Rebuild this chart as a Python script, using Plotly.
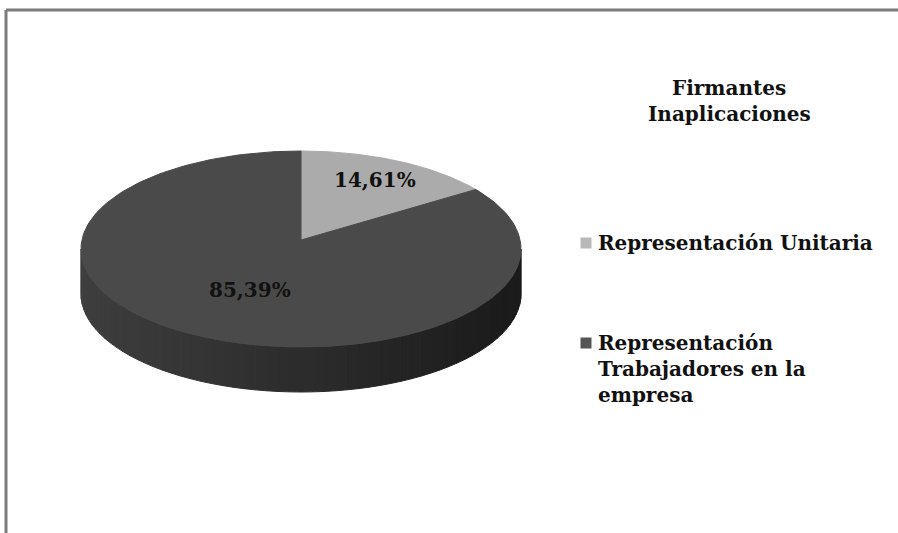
import textwrap
import numpy as np
import plotly.graph_objects as go

# ---- data -------------------------------------------------------------
categories = ["Representación Unitaria",
              "Representación Trabajadores en la empresa"]
shares = [14.61, 85.39]
legend_title = "Firmantes Inaplicaciones"

# ---- styling ----------------------------------------------------------
W, H = 898, 533
FONT = "DejaVu Serif"
FONT_SIZE = 20
TEXT_COLOR = "#111111"
top_colors = ["#ababab", "#4a4a4a"]
swatch_colors = ["#b8b8b8", "#555555"]
side_shade = [(0x3e, 0x3e, 0x3e), (0x1a, 0x1a, 0x1a)]   # left -> right
label_radius = [0.76, 0.52]

# 3-D pie geometry (pixel space)
CX, CY = 301, 249          # centre of the top ellipse
RX, RY = 220, 98
APEX = (301, 240)          # where the slices meet
DEPTH = 45


def rim(theta):
    """Point on the top rim; theta in degrees, clockwise from 12 o'clock."""
    t = np.radians(theta)
    return CX + RX * np.sin(t), CY - RY * np.cos(t)


def text_font():
    return dict(family=FONT, size=FONT_SIZE, color=TEXT_COLOR, weight="bold")


fig = go.Figure()

# cumulative angles of each slice
total = sum(shares)
bounds = np.concatenate([[0.0], np.cumsum(shares) / total * 360.0])

# side walls (only the front half, 90..270 degrees, is visible)
for i in range(len(shares)):
    lo, hi = max(bounds[i], 90.0), min(bounds[i + 1], 270.0)
    if lo >= hi:
        continue
    steps = np.linspace(lo, hi, 61)
    for a, b in zip(steps[:-1], steps[1:]):
        xa, ya = rim(a)
        xb, yb = rim(b)
        f = ((xa + xb) / 2 - (CX - RX)) / (2 * RX)
        c = [round(side_shade[0][k] + (side_shade[1][k] - side_shade[0][k]) * f) for k in range(3)]
        col = f"rgb({c[0]},{c[1]},{c[2]})"
        fig.add_trace(go.Scatter(
            x=[xa, xb, xb, xa, xa], y=[ya, yb, yb + DEPTH, ya + DEPTH, ya],
            mode="lines", fill="toself", fillcolor=col,
            line=dict(color=col, width=1), hoverinfo="skip", showlegend=False))

# top faces
for i, cat in enumerate(categories):
    th = np.linspace(bounds[i], bounds[i + 1], 200)
    px, py = rim(th)
    xs = np.concatenate([[APEX[0]], px, [APEX[0]]])
    ys = np.concatenate([[APEX[1]], py, [APEX[1]]])
    fig.add_trace(go.Scatter(
        x=xs, y=ys, mode="lines", fill="toself", fillcolor=top_colors[i],
        line=dict(color=top_colors[i], width=1), name=cat,
        hoverinfo="name", showlegend=False))

# value labels on the slices
for i, v in enumerate(shares):
    mid = (bounds[i] + bounds[i + 1]) / 2
    rx_, ry_ = rim(mid)
    lx = APEX[0] + label_radius[i] * (rx_ - APEX[0])
    ly = APEX[1] + label_radius[i] * (ry_ - APEX[1])
    fig.add_annotation(x=lx, y=ly, text=f"{v:.2f}%".replace(".", ","),
                       showarrow=False, xanchor="center", yanchor="middle",
                       font=text_font())

# legend title
for k, line in enumerate(textwrap.wrap(legend_title, 23)):
    fig.add_annotation(x=729, y=88 + 26 * k, text=line, showarrow=False,
                       xanchor="center", yanchor="middle", font=text_font())

# legend entries
item_y = [243, 343]
fig.add_trace(go.Scatter(
    x=[586] * len(categories), y=item_y, mode="markers",
    marker=dict(symbol="square", size=11, color=swatch_colors, line=dict(width=0)),
    hoverinfo="skip", showlegend=False))
for i, cat in enumerate(categories):
    for k, line in enumerate(textwrap.wrap(cat, 23)):
        fig.add_annotation(x=596, y=item_y[i] + 26 * k, text=line, showarrow=False,
                           xanchor="left", yanchor="middle", font=text_font())

# chart-area frame: only the top and left edges fall inside the view
frame = dict(color="#7c7c7c", width=3)
fig.add_shape(type="line", xref="paper", yref="paper",
              x0=6 / W, x1=1.0, y0=1 - 10 / H, y1=1 - 10 / H, line=frame)
fig.add_shape(type="line", xref="paper", yref="paper",
              x0=6 / W, x1=6 / W, y0=0.0, y1=1 - 10 / H, line=frame)

fig.update_layout(
    width=W, height=H, margin=dict(l=0, r=0, t=0, b=0),
    paper_bgcolor="white", plot_bgcolor="white",
    xaxis=dict(range=[0, W], visible=False, fixedrange=True),
    yaxis=dict(range=[H, 0], visible=False, fixedrange=True),
    showlegend=False,
)

fig.write_html("out.html")
